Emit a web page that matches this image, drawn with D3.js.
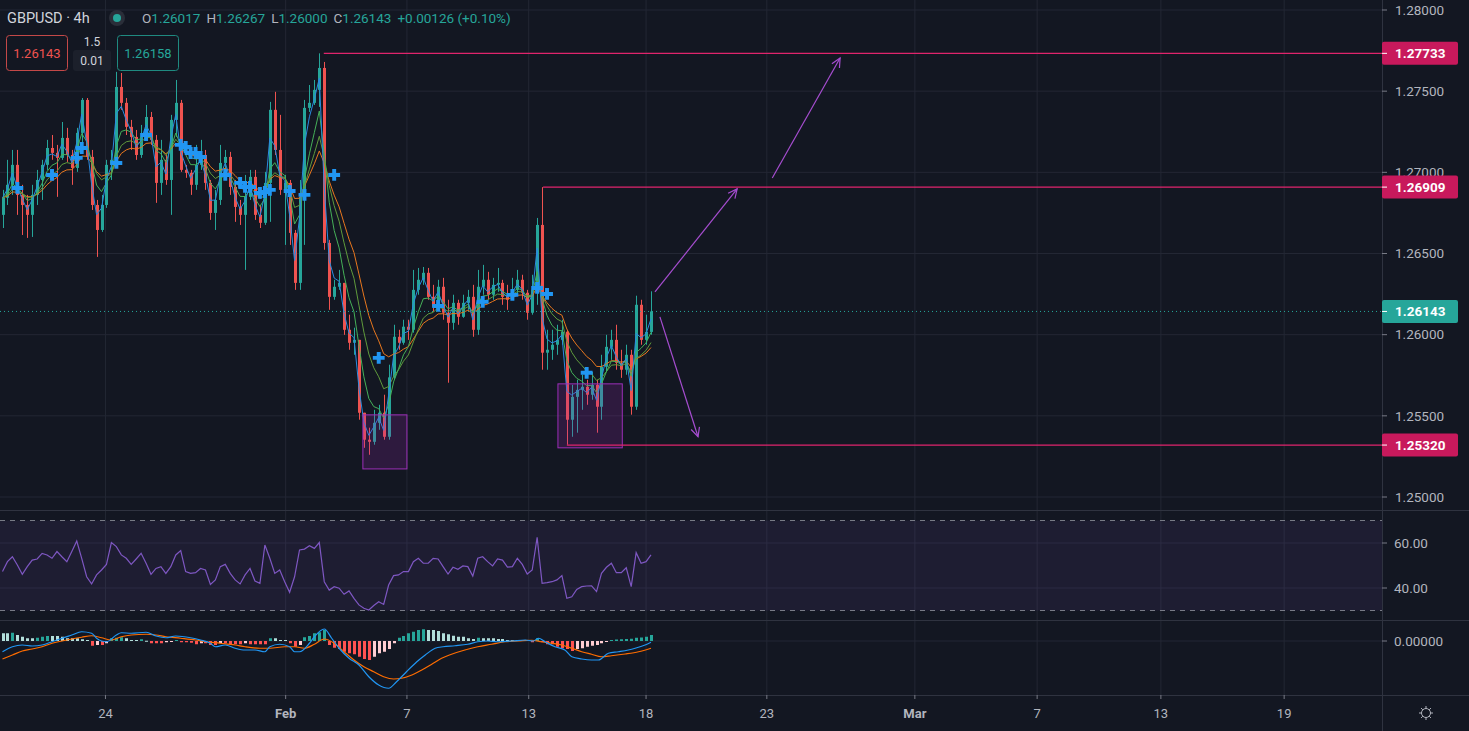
<!DOCTYPE html>
<html>
<head>
<meta charset="utf-8">
<script src="https://cdn.jsdelivr.net/npm/d3@7"></script>
<style>
  html, body { margin: 0; padding: 0; background: #131722; overflow: hidden; }
  svg { display: block; font-family: Roboto, "Noto Sans", sans-serif; }
</style>
</head>
<body>
<svg id="chart" width="1469" height="731"></svg>
<script>
// GBPUSD 4h candles [open, high, low, close]
var candles = [
  [1.26738,1.26892,1.26657,1.26843],[1.26843,1.27077,1.26799,1.26923],[1.26923,1.27138,1.26861,1.27046],
  [1.27046,1.27138,1.26738,1.26861],[1.26861,1.26923,1.26614,1.26799],[1.26799,1.26861,1.26596,1.26738],
  [1.26738,1.26923,1.26602,1.26861],[1.26861,1.27015,1.26799,1.26953],[1.26953,1.27077,1.26830,1.27046],
  [1.27046,1.27200,1.27015,1.27150],[1.27150,1.27230,1.27077,1.27120],[1.27120,1.27169,1.26849,1.27089],
  [1.27089,1.27310,1.27077,1.27212],[1.27212,1.27274,1.27064,1.27107],[1.27107,1.27138,1.26923,1.27027],
  [1.27027,1.27274,1.27003,1.27243],[1.27243,1.27458,1.27157,1.27446],[1.27446,1.27458,1.27077,1.27095],
  [1.27095,1.27138,1.26768,1.26799],[1.26799,1.26830,1.26479,1.26645],[1.26645,1.26861,1.26633,1.26799],
  [1.26799,1.27077,1.26781,1.27046],[1.27046,1.27138,1.26953,1.27077],[1.27077,1.27619,1.27046,1.27526],
  [1.27526,1.27612,1.27385,1.27428],[1.27428,1.27458,1.27230,1.27280],[1.27280,1.27323,1.27138,1.27218],
  [1.27218,1.27261,1.27077,1.27107],[1.27107,1.27292,1.27089,1.27218],[1.27218,1.27415,1.27200,1.27341],
  [1.27341,1.27372,1.27169,1.27200],[1.27200,1.27230,1.26812,1.26935],[1.26935,1.27200,1.26861,1.27077],
  [1.27077,1.27107,1.26923,1.26953],[1.26953,1.27354,1.26738,1.27323],[1.27323,1.27569,1.27218,1.27428],
  [1.27428,1.27446,1.27003,1.27015],[1.27015,1.27046,1.26966,1.26997],[1.26997,1.27015,1.26861,1.26923],
  [1.26923,1.27169,1.26892,1.27046],[1.27046,1.27200,1.27015,1.27107],[1.27107,1.27138,1.26892,1.26935],
  [1.26935,1.26953,1.26707,1.26750],[1.26750,1.26892,1.26645,1.26830],[1.26830,1.27169,1.26799,1.27058],
  [1.27058,1.27138,1.27015,1.27095],[1.27095,1.27126,1.26861,1.26910],[1.26910,1.26953,1.26695,1.26787],
  [1.26787,1.26830,1.26676,1.26738],[1.26738,1.26984,1.26399,1.26849],[1.26849,1.27015,1.26830,1.26972],
  [1.26972,1.27015,1.26707,1.26738],[1.26738,1.26799,1.26657,1.26689],[1.26689,1.27003,1.26676,1.26935],
  [1.26935,1.27434,1.26695,1.27385],[1.27385,1.27496,1.27107,1.27138],[1.27138,1.27354,1.26861,1.26892],
  [1.26892,1.26984,1.26553,1.26935],[1.26935,1.26953,1.26553,1.26627],[1.26627,1.26645,1.26276,1.26319],
  [1.26319,1.26953,1.26276,1.26849],[1.26849,1.27446,1.26553,1.27397],[1.27397,1.27538,1.27372,1.27428],
  [1.27428,1.27569,1.27415,1.27508],[1.27508,1.27733,1.27403,1.27643],[1.27643,1.27680,1.26523,1.26565],
  [1.26565,1.26584,1.26153,1.26233],[1.26233,1.26338,1.26215,1.26295],[1.26295,1.26399,1.26276,1.26319],
  [1.26319,1.26319,1.25999,1.26030],[1.26030,1.26123,1.25907,1.25950],[1.25950,1.26043,1.25876,1.25968],
  [1.25968,1.25968,1.25476,1.25519],[1.25519,1.25519,1.25303,1.25353],[1.25353,1.25427,1.25260,1.25340],
  [1.25340,1.25537,1.25322,1.25457],[1.25457,1.25568,1.25414,1.25519],[1.25519,1.25630,1.25353,1.25371],
  [1.25371,1.25815,1.25353,1.25737],[1.25737,1.26061,1.25722,1.25987],[1.25987,1.26030,1.25907,1.25950],
  [1.25950,1.26092,1.25938,1.26049],[1.26049,1.26092,1.25968,1.26030],[1.26030,1.26399,1.26012,1.26276],
  [1.26276,1.26411,1.26246,1.26338],[1.26338,1.26417,1.26307,1.26381],[1.26381,1.26411,1.26215,1.26233],
  [1.26233,1.26307,1.26141,1.26172],[1.26172,1.26338,1.26153,1.26295],[1.26295,1.26350,1.26092,1.26135],
  [1.26135,1.26215,1.25704,1.26073],[1.26073,1.26246,1.26030,1.26196],[1.26196,1.26215,1.26061,1.26110],
  [1.26110,1.26246,1.26104,1.26196],[1.26196,1.26276,1.26153,1.26233],[1.26233,1.26307,1.25987,1.26030],
  [1.26030,1.26399,1.25999,1.26295],[1.26295,1.26430,1.26246,1.26338],[1.26338,1.26387,1.26215,1.26246],
  [1.26246,1.26350,1.26215,1.26307],[1.26307,1.26411,1.26264,1.26319],[1.26319,1.26338,1.26184,1.26233],
  [1.26233,1.26307,1.26153,1.26215],[1.26215,1.26350,1.26215,1.26276],[1.26276,1.26399,1.26246,1.26338],
  [1.26338,1.26369,1.26215,1.26258],[1.26258,1.26276,1.26092,1.26135],[1.26135,1.26369,1.26123,1.26276],
  [1.26276,1.26719,1.26184,1.26676],[1.26676,1.26909,1.25784,1.25889],[1.25889,1.26030,1.25784,1.25907],
  [1.25907,1.26030,1.25845,1.25938],[1.25938,1.26061,1.25876,1.25968],[1.25968,1.26092,1.25938,1.26018],
  [1.26018,1.26030,1.25322,1.25476],[1.25476,1.25691,1.25371,1.25617],[1.25617,1.25722,1.25396,1.25660],
  [1.25660,1.25753,1.25537,1.25679],[1.25679,1.25722,1.25568,1.25630],[1.25630,1.25771,1.25599,1.25691],
  [1.25691,1.25722,1.25396,1.25556],[1.25556,1.25876,1.25476,1.25802],[1.25802,1.25999,1.25771,1.25925],
  [1.25925,1.26030,1.25845,1.25968],[1.25968,1.26061,1.25784,1.25827],[1.25827,1.25907,1.25734,1.25784],
  [1.25784,1.25938,1.25753,1.25876],[1.25876,1.25907,1.25507,1.25556],[1.25556,1.26240,1.25537,1.26184],
  [1.26184,1.26215,1.25938,1.25968],[1.25968,1.26123,1.25938,1.26017],[1.26017,1.26267,1.26000,1.26143]
];

var rsiValues = [
  47.3,51.7,53.9,50.2,46.1,49.5,52.4,52.9,55.4,54.7,53.2,56.2,53.9,51.7,56.2,60.9,53.2,45.0,41.8,45.8,
  48.0,50.5,60.2,58.4,54.7,53.2,50.5,52.9,55.4,51.0,46.1,48.7,49.5,46.5,49.5,54.7,56.6,47.3,46.5,46.8,
  48.7,48.0,41.6,43.6,49.5,50.5,46.5,43.6,41.8,45.8,48.7,43.1,42.1,59.1,53.2,46.5,48.0,42.8,38.1,45.0,
  56.9,57.3,58.8,57.6,60.2,42.8,39.1,
  40.6,39.9,37.2,38.7,35.4,32.5,31.0,30.2,32.2,33.9,32.7,41.3,45.5,45.8,47.3,47.3,51.7,53.2,51.0,51.0,
  53.2,52.9,49.5,46.2,49.2,48.3,49.8,49.5,45.3,53.2,53.9,51.7,49.8,52.9,52.4,49.3,49.5,53.2,50.5,46.2,
  48.0,62.5,42.1,42.4,42.8,43.6,45.5,35.4,36.1,39.4,40.6,40.9,41.0,38.4,46.5,49.2,51.0,46.8,46.8,49.0,
  40.6,55.7,51.0,51.7,54.7
];

var macdHist = [
  0.00031,0.00031,0.00033,0.00024,0.00017,0.00011,0.00011,0.00013,0.00017,0.00020,
  0.00020,0.00020,0.00017,0.00011,0.00011,0.00011,0.00007,0.00004,-0.00019,-0.00016,
  -0.00016,-0.00009,0.00011,0.00013,0.00015,0.00011,0.00004,0.00004,0.00007,0.00001,
  -0.00009,-0.00009,-0.00009,-0.00005,-0.00001,0.00004,-0.00005,-0.00005,-0.00007,-0.00013,
  -0.00009,-0.00009,-0.00016,-0.00016,-0.00009,-0.00009,-0.00013,-0.00013,-0.00013,-0.00009,
  -0.00013,-0.00013,-0.00013,-0.00013,0.00011,0.00011,0.00004,0.00004,-0.00009,-0.00023,
  -0.00016,0.00015,0.00020,0.00031,0.00035,0.00044,
  -0.00016,-0.00027,-0.00032,-0.00043,-0.00049,-0.00053,-0.00063,-0.00072,-0.00076,-0.00063,
  -0.00049,-0.00043,-0.00032,-0.00009,0.00013,0.00020,0.00031,0.00037,0.00044,0.00047,
  0.00044,0.00044,0.00040,0.00031,0.00027,0.00021,0.00017,0.00017,0.00011,0.00008,
  0.00013,0.00011,0.00011,0.00011,0.00008,0.00008,0.00004,0.00004,0.00004,0.00004,
  0.00004,-0.00005,0.00011,-0.00005,-0.00013,-0.00013,-0.00023,-0.00029,-0.00032,-0.00040,
  -0.00032,-0.00029,-0.00023,-0.00019,-0.00016,-0.00009,-0.00003,0.00004,0.00006,0.00007,
  0.00008,0.00009,0.00013,0.00014,0.00017,0.00024
];

// [bar index, value]
var macdLine = [
  [0,-0.00043],[2,-0.00023],[4,-0.00016],[6,-0.00020],[8,-0.00016],[10,-0.00003],[12,0.00011],
  [14,0.00024],[16,0.00037],[18,0.00031],[19,0.00011],[20,0],[21,-0.00003],[23,0.00024],[24,0.00033],
  [26,0.00031],[29,0.00035],[31,0.00020],[33,0.00013],[35,0.00020],[38,0.00013],[40,0.00004],
  [42,-0.00009],[43,-0.00023],[45,-0.00016],[47,-0.00029],[49,-0.00036],[51,-0.00036],[53,-0.00043],
  [54,-0.00023],[56,-0.00013],[58,-0.00023],[59,-0.00043],[60,-0.00043],[62,-0.00009],[63,0.00017],
  [65,0.00048],[66.5,0.00011],[68,-0.00029],[70,-0.00069],[72,-0.00096],[74,-0.00143],[76,-0.00176],
  [78,-0.00189],[79.6,-0.00163],[81.6,-0.00123],[83.7,-0.00083],[85.4,-0.00056],[87.4,-0.00029],
  [89,-0.00023],[91.4,-0.00019],[94,-0.00013],[96,-0.00003],[98,0],[100,-0.00003],[103,0],
  [105.6,0.00004],[107.2,0],[108.3,0.00011],[109.6,-0.00003],[111.6,-0.00023],[113.6,-0.00036],
  [115,-0.00063],[117,-0.00072],[119,-0.00076],[120.4,-0.00076],[122.4,-0.00049],[124.4,-0.00043],
  [126.4,-0.00036],[127.8,-0.00029],[129.8,-0.00016],[131,-0.00005]
];
var signalLine = [
  [0,-0.00072],[2,-0.00056],[4,-0.00040],[6,-0.00032],[8,-0.00023],[10,-0.00009],[12,0],[14,0.00008],
  [16,0.00015],[18,0.00021],[20,0.00013],[22,0.00004],[24,0.00017],[26,0.00024],[29,0.00027],
  [31,0.00024],[33,0.00017],[36,0.00011],[39,0.00004],[41,-0.00003],[44,-0.00009],[47,-0.00016],
  [49,-0.00023],[52,-0.00029],[54,-0.00029],[57,-0.00023],[59,-0.00023],[61,-0.00029],[63,-0.00013],
  [65,0.00008],[67,-0.00009],[69,-0.00043],[71,-0.00076],[73,-0.00103],[75,-0.00123],[77,-0.00143],
  [79,-0.00152],[80.6,-0.00149],[82.7,-0.00136],[84.7,-0.00116],[86.7,-0.00093],[88.7,-0.00069],
  [90.7,-0.00053],[93.4,-0.00036],[96,-0.00023],[98.8,-0.00013],[101.5,-0.00003],[104.2,0],
  [106.9,0.00003],[108.9,-0.00003],[111,-0.00009],[113,-0.00016],[115,-0.00029],[117,-0.00043],
  [119,-0.00053],[121,-0.00063],[123,-0.00059],[125.8,-0.00052],[128.5,-0.00043],[131,-0.00029]
];

// signal crosses on the price pane
var crossIdx = [3,10,15,16,23,29,36,37,38,39,40,45,48,49,50,52,53,54,58,61,67,76,88,97,103,108,110,118];
var crossPrice = [1.26904,1.26984,1.27089,1.27150,1.27058,1.27230,1.27169,1.27156,1.27119,1.27119,
  1.27095,1.26984,1.26935,1.26910,1.26910,1.26873,1.26879,1.26892,1.26885,1.26861,1.26984,1.25857,
  1.26177,1.26202,1.26245,1.26288,1.26251,1.25765];

var priceTicks = [1.25, 1.255, 1.26, 1.265, 1.27, 1.275, 1.28];
var rsiTicks = [40, 60];
var dateTickIdx = [20.8, 57.2, 81.7, 106.3, 130, 154.4, 184.3, 209, 234, 258.9];
var dateTickLabels = ["24", "Feb", "7", "13", "18", "23", "Mar", "7", "13", "19"];

// drawings
var levelPrices = [1.27733, 1.26909, 1.25320];
var levelStart = [64.9, 109.2, 114.0];
var zoneIdx = [[72.8, 81.7], [112.2, 125.2]];
var zonePrice = [[1.25506, 1.25173], [1.25697, 1.25303]];
var arrowIdx = [[131.8, 148.4], [155.5, 169.2], [132.8, 140.5]];
var arrowPrice = [[1.26263, 1.26898], [1.26965, 1.27704], [1.26110, 1.25371]];

var maPeriods = [2, 5, 9, 14];
var maColors = ["#2a8be0", "#45b058", "#5f9a3c", "#e8771e"];

var W = 1469, axisX = 1382;
var pane = { price: [0, 510], rsi: [510, 620], macd: [620, 695] };
var upColor = "#26a69a", downColor = "#ef5350";
var gridColor = "#232734", borderColor = "#2f3340", textColor = "#b2b5be";

var svg = d3.select("#chart");
svg.append("rect").attr("width", W).attr("height", 731).attr("fill", "#131722");

var last = candles.length - 1;
var x = d3.scaleLinear().domain([0, last]).range([2.5, 651]);
var y = d3.scaleLinear().domain([1.25, 1.28]).range([497, 10]);
var yRsi = d3.scaleLinear().domain([30, 70]).range([610.5, 520.5]);
var yMacd = d3.scaleLinear().domain([-0.00216, 0.00084]).range([695, 620]);

var defs = svg.append("defs");
Object.keys(pane).forEach(function(k) {
  defs.append("clipPath").attr("id", "clip-" + k)
    .append("rect").attr("x", 0).attr("y", pane[k][0])
    .attr("width", axisX).attr("height", pane[k][1] - pane[k][0]);
});

// grid
var grid = svg.append("g");
grid.selectAll(".vg").data(dateTickIdx).enter().append("line")
  .attr("x1", function(d) { return x(d); }).attr("x2", function(d) { return x(d); })
  .attr("y1", 0).attr("y2", 695).attr("stroke", gridColor);
grid.selectAll(".hg").data(priceTicks).enter().append("line")
  .attr("x1", 0).attr("x2", axisX).attr("y1", function(d) { return y(d); }).attr("y2", function(d) { return y(d); })
  .attr("stroke", gridColor);
grid.selectAll(".rg").data(rsiTicks).enter().append("line")
  .attr("x1", 0).attr("x2", axisX).attr("y1", function(d) { return yRsi(d); }).attr("y2", function(d) { return yRsi(d); })
  .attr("stroke", gridColor);
grid.append("line").attr("x1", 0).attr("x2", axisX).attr("y1", yMacd(0)).attr("y2", yMacd(0)).attr("stroke", gridColor);

// pane borders
[pane.price[1], pane.rsi[1], pane.macd[1]].forEach(function(v) {
  svg.append("line").attr("x1", 0).attr("x2", W).attr("y1", v + 0.5).attr("y2", v + 0.5).attr("stroke", borderColor);
});
svg.append("line").attr("x1", axisX + 0.5).attr("x2", axisX + 0.5).attr("y1", 0).attr("y2", 731).attr("stroke", borderColor);

// price pane
var pg = svg.append("g").attr("clip-path", "url(#clip-price)");

var closes = candles.map(function(c) { return c[3]; });
function ema(values, n) {
  var k = 2 / (n + 1), prev = values[0];
  return values.map(function(v, i) { prev = i ? prev + k * (v - prev) : v; return prev; });
}

// candles
var cg = pg.append("g");
cg.selectAll(".wick").data(candles).enter().append("line")
  .attr("x1", function(d, i) { return Math.round(x(i)) + 0.5; })
  .attr("x2", function(d, i) { return Math.round(x(i)) + 0.5; })
  .attr("y1", function(d) { return y(d[1]); }).attr("y2", function(d) { return y(d[2]); })
  .attr("stroke", function(d) { return d[3] >= d[0] ? upColor : downColor; });
cg.selectAll(".body").data(candles).enter().append("rect")
  .attr("x", function(d, i) { return Math.round(x(i)) - 1; })
  .attr("width", 3)
  .attr("y", function(d) { return y(Math.max(d[0], d[3])); })
  .attr("height", function(d) { return Math.max(1, Math.abs(y(d[0]) - y(d[3]))); })
  .attr("fill", function(d) { return d[3] >= d[0] ? upColor : downColor; });

// moving averages
maPeriods.slice().reverse().forEach(function(n, j) {
  var vals = ema(closes, n);
  pg.append("path").datum(vals)
    .attr("d", d3.line().x(function(d, i) { return x(i); }).y(function(d) { return y(d); }))
    .attr("fill", "none").attr("stroke", maColors[maPeriods.length - 1 - j]).attr("stroke-width", 1);
});

// crosses
pg.selectAll(".cross").data(crossIdx).enter().append("path")
  .attr("d", d3.symbol().type(d3.symbolCross).size(78))
  .attr("transform", function(d, i) { return "translate(" + x(d) + "," + y(crossPrice[i]) + ")"; })
  .attr("fill", "#2196f3");

// zones
pg.selectAll(".zone").data(zoneIdx).enter().append("rect")
  .attr("x", function(d) { return x(d[0]); })
  .attr("width", function(d) { return x(d[1]) - x(d[0]); })
  .attr("y", function(d, i) { return y(zonePrice[i][0]); })
  .attr("height", function(d, i) { return y(zonePrice[i][1]) - y(zonePrice[i][0]); })
  .attr("fill", "rgba(156,39,176,0.2)").attr("stroke", "#9c2fb8").attr("stroke-width", 1);

// last price dotted line
svg.append("line").attr("x1", 0).attr("x2", axisX)
  .attr("y1", y(closes[last])).attr("y2", y(closes[last]))
  .attr("stroke", upColor).attr("stroke-dasharray", "1,3");

// horizontal levels
pg.selectAll(".level").data(levelPrices).enter().append("line")
  .attr("x1", function(d, i) { return x(levelStart[i]); }).attr("x2", axisX)
  .attr("y1", function(d) { return y(d); }).attr("y2", function(d) { return y(d); })
  .attr("stroke", "#e0246c").attr("stroke-width", 1.3);

// arrows
arrowIdx.forEach(function(a, i) {
  var x1 = x(a[0]), y1 = y(arrowPrice[i][0]), x2 = x(a[1]), y2 = y(arrowPrice[i][1]);
  var ang = Math.atan2(y2 - y1, x2 - x1), len = 10, spread = 0.45;
  var g = pg.append("g").attr("stroke", "#a64dd0").attr("stroke-width", 1.2).attr("fill", "none");
  g.append("line").attr("x1", x1).attr("y1", y1).attr("x2", x2).attr("y2", y2);
  g.append("path").attr("d",
    "M" + (x2 - len * Math.cos(ang - spread)) + "," + (y2 - len * Math.sin(ang - spread)) +
    "L" + x2 + "," + y2 +
    "L" + (x2 - len * Math.cos(ang + spread)) + "," + (y2 - len * Math.sin(ang + spread)));
});

// RSI pane
var rg = svg.append("g").attr("clip-path", "url(#clip-rsi)");
rg.append("rect").attr("x", 0).attr("width", axisX)
  .attr("y", yRsi(70)).attr("height", yRsi(30) - yRsi(70))
  .attr("fill", "rgba(126,87,194,0.1)");
[70, 30].forEach(function(v) {
  rg.append("line").attr("x1", 0).attr("x2", axisX).attr("y1", yRsi(v)).attr("y2", yRsi(v))
    .attr("stroke", "#787b86").attr("stroke-dasharray", "5,5");
});
rg.append("path").datum(rsiValues)
  .attr("d", d3.line().x(function(d, i) { return x(i); }).y(function(d) { return yRsi(d); }))
  .attr("fill", "none").attr("stroke", "#7e57c2").attr("stroke-width", 1.2);

// MACD pane
var mg = svg.append("g").attr("clip-path", "url(#clip-macd)");
mg.selectAll(".hist").data(macdHist).enter().append("rect")
  .attr("x", function(d, i) { return Math.round(x(i)) - 1; })
  .attr("width", 3)
  .attr("y", function(d) { return Math.min(yMacd(d), yMacd(0)); })
  .attr("height", function(d) { return Math.max(1, Math.abs(yMacd(d) - yMacd(0))); })
  .attr("fill", function(d, i) {
    var prev = i ? macdHist[i - 1] : d;
    if (d >= 0) return prev < d ? "#26a69a" : "#b2dfdb";
    return prev < d ? "#ffcdd2" : "#ff5252";
  });
var pairLine = d3.line().x(function(d) { return x(d[0]); }).y(function(d) { return yMacd(d[1]); }).curve(d3.curveMonotoneX);
mg.append("path").datum(signalLine).attr("d", pairLine).attr("fill", "none").attr("stroke", "#ff6d00").attr("stroke-width", 1.2);
mg.append("path").datum(macdLine).attr("d", pairLine).attr("fill", "none").attr("stroke", "#2196f3").attr("stroke-width", 1.2);

// right axis labels
var axis = svg.append("g").attr("font-size", 13.5).attr("fill", textColor);
function axisTick(yy) {
  axis.append("line").attr("x1", axisX).attr("x2", axisX + 5).attr("y1", yy).attr("y2", yy).attr("stroke", "#787b86");
}
priceTicks.forEach(function(p) {
  axisTick(y(p));
  axis.append("text").attr("x", 1395).attr("y", y(p)).attr("dy", "0.35em").text(p.toFixed(5));
});
rsiTicks.forEach(function(v) {
  axisTick(yRsi(v));
  axis.append("text").attr("x", 1394).attr("y", yRsi(v)).attr("dy", "0.35em").text(v.toFixed(2));
});
axisTick(yMacd(0));
axis.append("text").attr("x", 1394).attr("y", yMacd(0)).attr("dy", "0.35em").text("0.00000");

// price labels
function priceLabel(p, color) {
  var yy = y(p);
  svg.append("rect").attr("x", axisX).attr("y", yy - 11.5).attr("width", 76).attr("height", 23).attr("rx", 2).attr("fill", color);
  svg.append("line").attr("x1", axisX).attr("x2", axisX + 5).attr("y1", yy).attr("y2", yy).attr("stroke", "#ffffff");
  svg.append("text").attr("x", 1395).attr("y", yy).attr("dy", "0.36em")
    .attr("font-size", 13.5).attr("font-weight", "bold").attr("fill", "#ffffff").text(p.toFixed(5));
}
levelPrices.forEach(function(p) { priceLabel(p, "#c8195c"); });
priceLabel(closes[last], "#26a69a");

// time axis
var tg = svg.append("g").attr("font-size", 13).attr("fill", textColor).attr("text-anchor", "middle");
dateTickIdx.forEach(function(d, i) {
  tg.append("line").attr("x1", x(d)).attr("x2", x(d)).attr("y1", 695).attr("y2", 699).attr("stroke", "#787b86");
  tg.append("text").attr("x", x(d)).attr("y", 718)
    .attr("font-weight", isNaN(+dateTickLabels[i]) ? "bold" : "normal")
    .text(dateTickLabels[i]);
});

// settings gear
var gear = svg.append("g").attr("transform", "translate(1426,713)").attr("stroke", textColor).attr("fill", "none");
gear.append("circle").attr("r", 4.5);
d3.range(8).forEach(function(k) {
  var a = k * Math.PI / 4;
  gear.append("line").attr("x1", 4.5 * Math.cos(a)).attr("y1", 4.5 * Math.sin(a))
    .attr("x2", 7 * Math.cos(a)).attr("y2", 7 * Math.sin(a));
});

// legend
var lc = candles[last];
var leg = svg.append("g");
leg.append("text").attr("x", 7).attr("y", 23).attr("font-size", 14.5).attr("fill", "#d1d4dc").text("GBPUSD · 4h");
leg.append("circle").attr("cx", 117).attr("cy", 18).attr("r", 8).attr("fill", "#2a2e39");
leg.append("circle").attr("cx", 117).attr("cy", 18).attr("r", 4).attr("fill", upColor);
var ohlc = leg.append("text").attr("x", 142).attr("y", 23).attr("font-size", 13.5);
[["O", lc[0]], ["H", lc[1]], ["L", lc[2]], ["C", lc[3]]].forEach(function(p, i) {
  ohlc.append("tspan").attr("fill", "#b2b5be").attr("dx", i ? 6 : 0).text(p[0]);
  ohlc.append("tspan").attr("fill", upColor).text(p[1].toFixed(5));
});
var chg = lc[3] - candles[last - 1][3];
ohlc.append("tspan").attr("fill", upColor).attr("dx", 6)
  .text("+" + chg.toFixed(5) + " (+" + (chg / candles[last - 1][3] * 100).toFixed(2) + "%)");

leg.append("rect").attr("x", 6.5).attr("y", 35.5).attr("width", 61).attr("height", 35).attr("rx", 3)
  .attr("fill", "none").attr("stroke", "#c44848");
leg.append("text").attr("x", 37).attr("y", 58).attr("text-anchor", "middle").attr("font-size", 13).attr("fill", downColor).text("1.26143");
leg.append("text").attr("x", 92).attr("y", 46).attr("text-anchor", "middle").attr("font-size", 12).attr("fill", "#d1d4dc").text("1.5");
leg.append("rect").attr("x", 73).attr("y", 50).attr("width", 38).attr("height", 21).attr("rx", 3).attr("fill", "#1c202b");
leg.append("text").attr("x", 92).attr("y", 65).attr("text-anchor", "middle").attr("font-size", 12).attr("fill", "#d1d4dc").text("0.01");
leg.append("rect").attr("x", 117.5).attr("y", 35.5).attr("width", 61).attr("height", 35).attr("rx", 3)
  .attr("fill", "none").attr("stroke", "#1f8a80");
leg.append("text").attr("x", 148).attr("y", 58).attr("text-anchor", "middle").attr("font-size", 13).attr("fill", upColor).text("1.26158");
</script>
</body>
</html>
